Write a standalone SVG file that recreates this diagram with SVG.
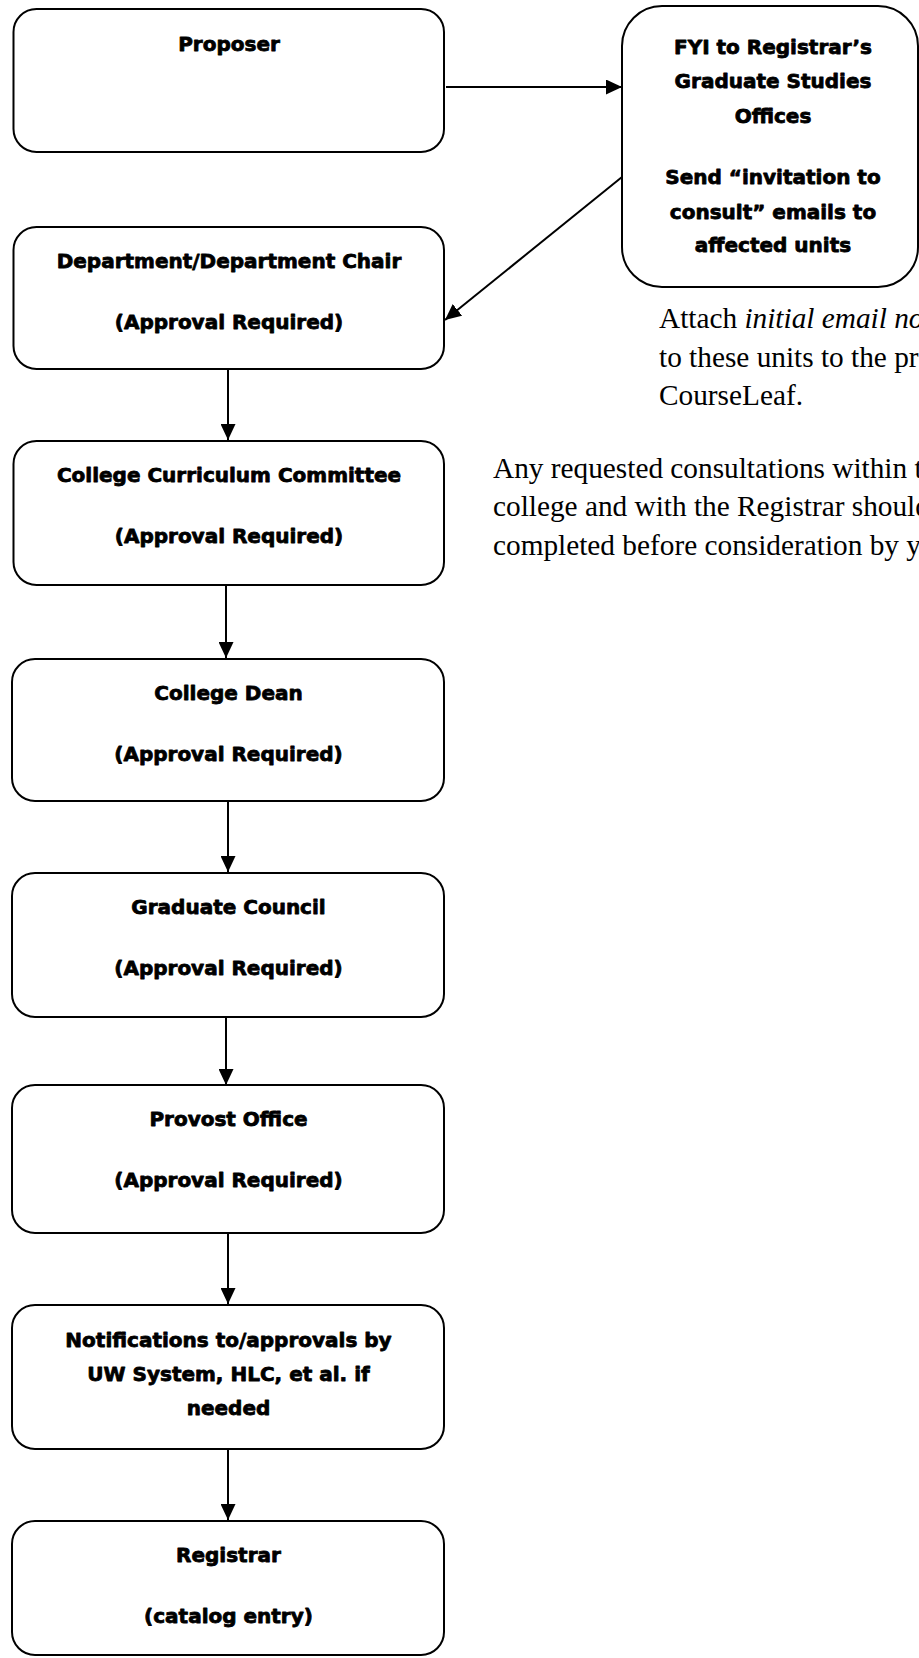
<svg xmlns="http://www.w3.org/2000/svg" width="919" height="1658" viewBox="0 0 919 1658">
<style>
.box{fill:#fff;stroke:#000;stroke-width:2}
.b{font-family:"DejaVu Sans","Liberation Sans",sans-serif;font-weight:bold;font-size:20px;fill:#000;stroke:#000;stroke-width:0.8;stroke-linejoin:round;text-anchor:middle}
.s{font-family:"Liberation Serif","Times New Roman",serif;font-size:29.3px;fill:#000}
.c{stroke:#000;stroke-width:2;fill:none;marker-end:url(#ah)}
</style>
<defs>
<marker id="ah" markerUnits="userSpaceOnUse" markerWidth="16" markerHeight="15" refX="16" refY="7.5" orient="auto">
<path d="M0,0 L16,7.5 L0,15 z" fill="#000"/>
</marker>
</defs>
<rect width="919" height="1658" fill="#fff"/>
<g id="connectors">
<line class="c" x1="446" y1="87" x2="622" y2="87"/>
<line class="c" x1="622" y1="177" x2="445" y2="320"/>
<line class="c" x1="228" y1="369" x2="228" y2="440"/>
<line class="c" x1="226" y1="585" x2="226" y2="658"/>
<line class="c" x1="228" y1="801" x2="228" y2="872"/>
<line class="c" x1="226" y1="1017" x2="226" y2="1085"/>
<line class="c" x1="228" y1="1233" x2="228" y2="1304"/>
<line class="c" x1="228" y1="1449" x2="228" y2="1520"/>
</g>
<g id="proposer">
<rect class="box" x="13.5" y="9" width="430.5" height="143" rx="23"/>
<text class="b" x="229" y="51">Proposer</text>
</g>
<g id="fyi">
<rect class="box" x="622" y="6" width="296" height="281" rx="40"/>
<text class="b" x="773" y="54">FYI to Registrar’s</text>
<text class="b" x="773" y="88">Graduate Studies</text>
<text class="b" x="773" y="123">Offices</text>
<text class="b" x="773" y="184">Send “invitation to</text>
<text class="b" x="773" y="219">consult” emails to</text>
<text class="b" x="773" y="252">affected units</text>
</g>
<g id="dept">
<rect class="box" x="13.5" y="227" width="430.5" height="142" rx="23"/>
<text class="b" x="229" y="268">Department/Department Chair</text>
<text class="b" x="229" y="329">(Approval Required)</text>
</g>
<g id="ccc">
<rect class="box" x="13.5" y="441" width="430.5" height="144" rx="23"/>
<text class="b" x="229" y="482">College Curriculum Committee</text>
<text class="b" x="229" y="543">(Approval Required)</text>
</g>
<g id="dean">
<rect class="box" x="12" y="659" width="432" height="142" rx="23"/>
<text class="b" x="228.5" y="700">College Dean</text>
<text class="b" x="228.5" y="761">(Approval Required)</text>
</g>
<g id="gradcouncil">
<rect class="box" x="12" y="873" width="432" height="144" rx="23"/>
<text class="b" x="228.5" y="914">Graduate Council</text>
<text class="b" x="228.5" y="975">(Approval Required)</text>
</g>
<g id="provost">
<rect class="box" x="12" y="1085" width="432" height="148" rx="23"/>
<text class="b" x="228.5" y="1126">Provost Office</text>
<text class="b" x="228.5" y="1187">(Approval Required)</text>
</g>
<g id="notifications">
<rect class="box" x="12" y="1305" width="432" height="144" rx="23"/>
<text class="b" x="228.5" y="1347">Notifications to/approvals by</text>
<text class="b" x="228.5" y="1381">UW System, HLC, et al. if</text>
<text class="b" x="228.5" y="1415">needed</text>
</g>
<g id="registrar">
<rect class="box" x="12" y="1521" width="432" height="134" rx="23"/>
<text class="b" x="228.5" y="1562">Registrar</text>
<text class="b" x="228.5" y="1623">(catalog entry)</text>
</g>
<g id="note-attach">
<text class="s" x="659" y="328">Attach <tspan font-style="italic">initial email no</tspan></text>
<text class="s" x="659" y="367">to these units to the pro</text>
<text class="s" x="659" y="405">CourseLeaf.</text>
</g>
<g id="note-consult">
<text class="s" x="493" y="478">Any requested consultations within t</text>
<text class="s" x="493" y="516">college and with the Registrar should</text>
<text class="s" x="493" y="555">completed before consideration by y</text>
</g>
</svg>
